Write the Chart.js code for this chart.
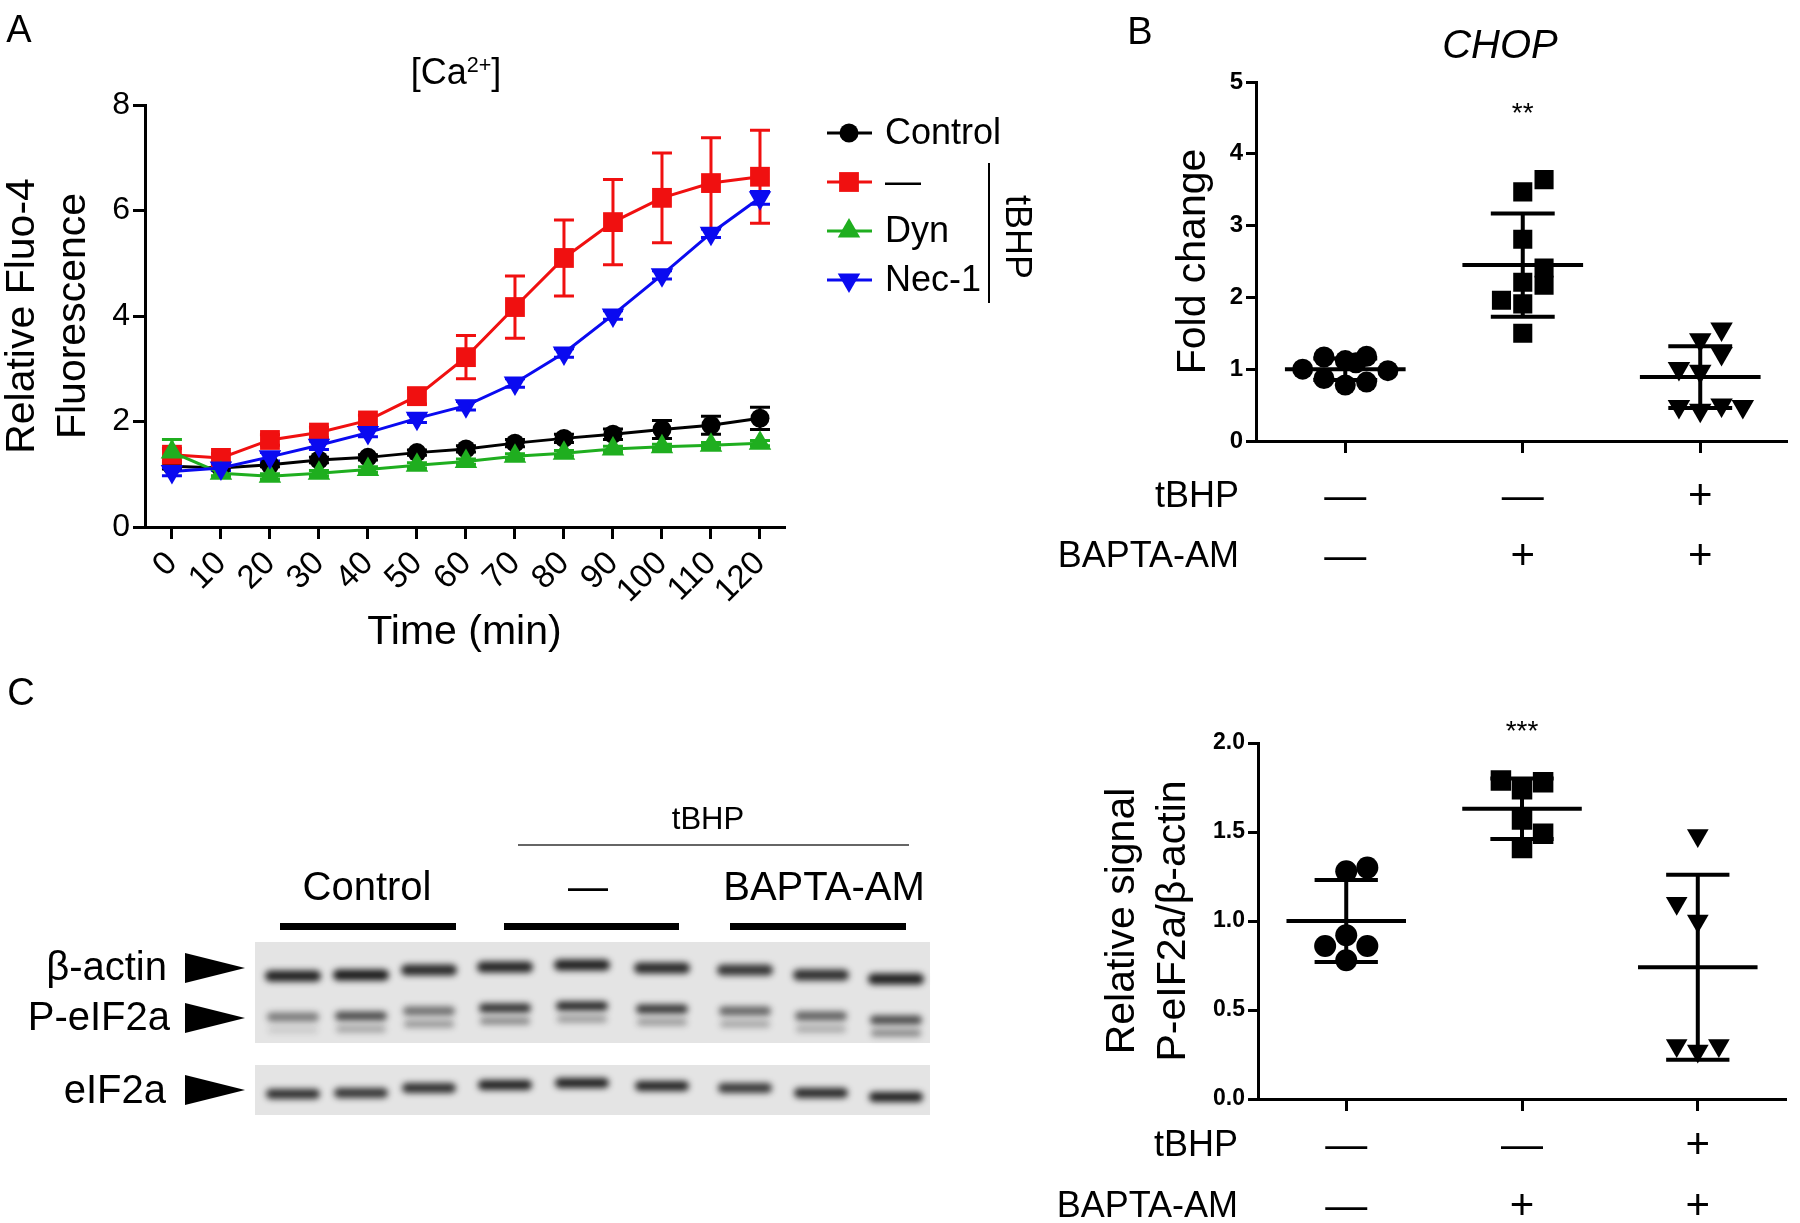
<!DOCTYPE html>
<html>
<head>
<meta charset="utf-8">
<script src="https://cdn.jsdelivr.net/npm/chart.js@4.4.1/dist/chart.umd.min.js"></script>
<style>
  body { margin: 0; background: #fff; }
  #page { position: relative; width: 1800px; height: 1223px; overflow: hidden; background: #fff;
          font-family: "Liberation Sans", Arial, Helvetica, sans-serif; color: #000; }
  canvas { position: absolute; }
  .lbl { position: absolute; white-space: nowrap; line-height: 1; }
  sup { font-size: 0.6em; vertical-align: 0.55em; line-height: 0; }
</style>
</head>
<body>
<div id="page">
  <canvas id="chartA" width="1110" height="680" style="left:0;top:0"></canvas>
  <canvas id="chartB" width="800" height="600" style="left:1000px;top:0"></canvas>
  <canvas id="chartC" width="800" height="543" style="left:1000px;top:680px"></canvas>
  <canvas id="blot" width="950" height="563" style="left:0;top:660px"></canvas>
</div>
<script>
// ---- panel A : Fluo-4 time course ----
const timeLabels = [0, 10, 20, 30, 40, 50, 60, 70, 80, 90, 100, 110, 120];
const controlMean = [1.15, 1.12, 1.18, 1.27, 1.32, 1.41, 1.48, 1.59, 1.68, 1.76, 1.85, 1.93, 2.06];
const controlErr  = [0.05, 0.04, 0.04, 0.05, 0.05, 0.05, 0.06, 0.07, 0.08, 0.10, 0.17, 0.17, 0.21];
const tbhpMean    = [1.37, 1.31, 1.65, 1.79, 2.02, 2.48, 3.22, 4.17, 5.10, 5.78, 6.24, 6.52, 6.64];
const tbhpErr     = [0.12, 0.08, 0.10, 0.10, 0.10, 0.15, 0.41, 0.59, 0.72, 0.81, 0.85, 0.86, 0.88];
const dynMean     = [1.42, 1.02, 0.96, 1.02, 1.09, 1.17, 1.24, 1.34, 1.40, 1.48, 1.52, 1.55, 1.59];
const dynErr      = [0.24, 0.05, 0.05, 0.05, 0.05, 0.05, 0.05, 0.05, 0.05, 0.05, 0.05, 0.05, 0.05];
const necMean     = [1.05, 1.12, 1.33, 1.55, 1.79, 2.06, 2.30, 2.73, 3.30, 4.02, 4.78, 5.57, 6.24];
const necErr      = [0.08, 0.05, 0.08, 0.08, 0.08, 0.08, 0.08, 0.08, 0.08, 0.08, 0.08, 0.08, 0.12];
const yTicksA = [0, 2, 4, 6, 8];

// ---- panel B : CHOP fold change ----
const groupLabels = ['Control', 'BAPTA-AM', 'tBHP + BAPTA-AM'];
const tbhpRow  = ['—', '—', '+'];
const baptaRow = ['—', '+', '+'];
const chopControl  = [1.00, 1.17, 0.87, 1.12, 0.78, 1.18, 0.82, 0.98, 1.09];
const chopControlX = [-0.24, -0.12, -0.12, 0, 0, 0.12, 0.12, 0.24, 0.06];
const chopBapta    = [3.47, 3.64, 2.81, 2.41, 2.17, 2.21, 1.96, 1.91, 1.50];
const chopBaptaX   = [0, 0.12, 0, 0.12, 0.12, 0, -0.12, 0, 0];
const chopBoth     = [1.56, 1.41, 1.22, 1.01, 0.97, 0.48, 0.43, 0.50, 0.48];
const chopBothX    = [0.12, 0, 0.12, -0.12, 0, -0.12, 0, 0.12, 0.24];
const chopMean = [1.00, 2.45, 0.89];
const chopSd   = [0.15, 0.72, 0.43];
const chopSig  = ['', '**', ''];

// ---- panel C : P-eIF2a / beta-actin ----
const eifControl  = [1.28, 1.30, 0.92, 0.86, 0.86, 0.78];
const eifControlX = [0, 0.12, 0, -0.12, 0.12, 0];
const eifBapta    = [1.79, 1.78, 1.74, 1.57, 1.49, 1.41];
const eifBaptaX   = [-0.12, 0.12, 0, 0, 0.12, 0];
const eifBoth     = [1.48, 1.10, 1.00, 0.30, 0.27, 0.30];
const eifBothX    = [0, -0.12, 0, -0.12, 0, 0.12];
const eifMean = [1.00, 1.63, 0.74];
const eifSd   = [0.23, 0.17, 0.52];
const eifSig  = ['', '***', ''];

// blot lane intensities (9 lanes: 3 control, 3 tBHP, 3 tBHP + BAPTA-AM)
const actinLevel = [0.92, 0.95, 0.88, 0.90, 0.92, 0.88, 0.82, 0.85, 0.92];
const peifLevel  = [0.50, 0.72, 0.55, 0.85, 0.90, 0.82, 0.60, 0.62, 0.72];
const peifLower  = [0.12, 0.30, 0.38, 0.45, 0.35, 0.35, 0.30, 0.28, 0.45];
const eifLevel   = [0.85, 0.82, 0.85, 0.92, 0.92, 0.90, 0.80, 0.88, 0.92];

const FONT = '"Liberation Sans", Arial, Helvetica, sans-serif';
Chart.defaults.font.family = FONT;
Chart.defaults.color = '#000';

const page = document.getElementById('page');
function addText(html, x, y, size, align, extra) {
  const d = document.createElement('div');
  d.className = 'lbl';
  d.innerHTML = html;
  d.style.left = x + 'px';
  d.style.top = y + 'px';
  d.style.fontSize = size + 'px';
  const tx = align === 'right' ? '-100%' : (align === 'left' ? '0' : '-50%');
  d.style.transform = 'translate(' + tx + ', -50%)';
  if (extra) Object.assign(d.style, extra);
  page.appendChild(d);
}

function marker(ctx, style, radius, rotation, x, y) {
  if (Chart.helpers && Chart.helpers.drawPoint) {
    Chart.helpers.drawPoint(ctx, { pointStyle: style, radius: radius, rotation: rotation || 0, borderWidth: 0 }, x, y);
    return;
  }
  ctx.beginPath();
  ctx.arc(x, y, radius, 0, Math.PI * 2);
  ctx.fill();
}

// error bars drawn under the lines
const errorBars = {
  id: 'errorBars',
  beforeDatasetsDraw(chart) {
    const ctx = chart.ctx, xs = chart.scales.x, ys = chart.scales.y;
    chart.data.datasets.forEach(ds => {
      if (!ds.err) return;
      ctx.save();
      ctx.strokeStyle = ds.borderColor;
      ctx.lineWidth = 3;
      ds.data.forEach((p, i) => {
        const e = ds.err[i];
        const x = xs.getPixelForValue(p.x);
        const y1 = ys.getPixelForValue(p.y + e), y2 = ys.getPixelForValue(p.y - e);
        ctx.beginPath();
        ctx.moveTo(x, y1); ctx.lineTo(x, y2);
        ctx.moveTo(x - 10, y1); ctx.lineTo(x + 10, y1);
        ctx.moveTo(x - 10, y2); ctx.lineTo(x + 10, y2);
        ctx.stroke();
      });
      ctx.restore();
    });
  }
};

// legend of panel A with the tBHP bracket
const legendA = {
  id: 'legendA',
  afterDraw(chart) {
    const ctx = chart.ctx, area = chart.chartArea;
    const x0 = area.right + 43;
    ctx.save();
    chart.data.datasets.forEach((ds, i) => {
      const y = area.top + 28 + i * 49;
      ctx.strokeStyle = ds.borderColor;
      ctx.lineWidth = 3;
      ctx.beginPath(); ctx.moveTo(x0, y); ctx.lineTo(x0 + 45, y); ctx.stroke();
      ctx.fillStyle = ds.borderColor;
      marker(ctx, ds.pointStyle, ds.pointRadius, ds.pointRotation, x0 + 22, y);
      ctx.fillStyle = '#000';
      ctx.font = '36px ' + FONT;
      ctx.textAlign = 'left';
      ctx.textBaseline = 'middle';
      ctx.fillText(ds.label, x0 + 58, y + 1);
    });
    ctx.strokeStyle = '#000';
    ctx.lineWidth = 2;
    ctx.beginPath();
    ctx.moveTo(area.right + 205, area.top + 58);
    ctx.lineTo(area.right + 205, area.top + 198);
    ctx.stroke();
    ctx.translate(area.right + 232, area.top + 132);
    ctx.rotate(Math.PI / 2);
    ctx.textAlign = 'center';
    ctx.textBaseline = 'middle';
    ctx.font = '36px ' + FONT;
    ctx.fillText('tBHP', 0, 0);
    ctx.restore();
  }
};

function lineSet(label, means, errs, color, style, radius, rot, order) {
  return {
    label: label,
    data: timeLabels.map((t, i) => ({ x: t, y: means[i] })),
    err: errs,
    borderColor: color,
    backgroundColor: color,
    pointBackgroundColor: color,
    pointBorderWidth: 0,
    pointStyle: style,
    pointRadius: radius,
    pointRotation: rot,
    borderWidth: 3,
    tension: 0,
    order: order
  };
}

new Chart(document.getElementById('chartA'), {
  type: 'line',
  data: {
    datasets: [
      lineSet('Control', controlMean, controlErr, '#000000', 'circle', 9.5, 0, 4),
      lineSet('—', tbhpMean, tbhpErr, '#f01010', 'rect', 14, 0, 3),
      lineSet('Dyn', dynMean, dynErr, '#1fae1f', 'triangle', 13, 0, 2),
      lineSet('Nec-1', necMean, necErr, '#0a0af0', 'triangle', 13, 180, 1)
    ]
  },
  options: {
    responsive: false,
    animation: false,
    devicePixelRatio: 1,
    layout: { padding: { top: 105, right: 326, bottom: 23, left: 0 } },
    plugins: { legend: { display: false }, tooltip: { enabled: false } },
    scales: {
      x: {
        type: 'linear', min: -5.5, max: 124.9,
        afterBuildTicks: s => { s.ticks = timeLabels.map(v => ({ value: v })); },
        afterFit: s => { s.height = 130; },
        border: { color: '#000', width: 3 },
        grid: { drawOnChartArea: false, drawTicks: true, tickLength: 12, color: '#000', lineWidth: 3 },
        ticks: { autoSkip: false, minRotation: 45, maxRotation: 45, padding: 5, font: { size: 33 } },
        title: { display: true, text: 'Time (min)', font: { size: 41 }, padding: { top: 0, bottom: 0 } }
      },
      y: {
        min: 0, max: 8,
        afterBuildTicks: s => { s.ticks = yTicksA.map(v => ({ value: v })); },
        afterFit: s => { s.width = 145; },
        border: { color: '#000', width: 3 },
        grid: { drawOnChartArea: false, drawTicks: true, tickLength: 12, color: '#000', lineWidth: 3 },
        ticks: { padding: 3, font: { size: 32 } },
        title: { display: true, text: ['Relative Fluo-4', 'Fluorescence'], font: { size: 41, lineHeight: 1.25 }, padding: { top: -3, bottom: 0 } }
      }
    }
  },
  plugins: [errorBars, legendA]
});

// mean +/- SD bars, treatment rows and significance stars for the dot plots
const groupStats = {
  id: 'groupStats',
  afterDatasetsDraw(chart, args, opts) {
    const ctx = chart.ctx, xs = chart.scales.x, ys = chart.scales.y, area = chart.chartArea;
    ctx.save();
    ctx.strokeStyle = '#000';
    ctx.lineWidth = 4;
    opts.means.forEach((m, i) => {
      const sd = opts.sds[i];
      ctx.beginPath();
      ctx.moveTo(xs.getPixelForValue(i - 0.34), ys.getPixelForValue(m));
      ctx.lineTo(xs.getPixelForValue(i + 0.34), ys.getPixelForValue(m));
      ctx.moveTo(xs.getPixelForValue(i), ys.getPixelForValue(m + sd));
      ctx.lineTo(xs.getPixelForValue(i), ys.getPixelForValue(m - sd));
      [m + sd, m - sd].forEach(v => {
        ctx.moveTo(xs.getPixelForValue(i - 0.18), ys.getPixelForValue(v));
        ctx.lineTo(xs.getPixelForValue(i + 0.18), ys.getPixelForValue(v));
      });
      ctx.stroke();
    });
    ctx.fillStyle = '#000';
    ctx.textBaseline = 'middle';
    ctx.textAlign = 'center';
    ctx.font = '28px ' + FONT;
    opts.sig.forEach((s, i) => {
      if (s) ctx.fillText(s, xs.getPixelForValue(i), ys.getPixelForValue(opts.sigValue));
    });
    const rows = [['tBHP', tbhpRow], ['BAPTA-AM', baptaRow]];
    rows.forEach((r, k) => {
      const y = area.bottom + opts.rowOffsets[k];
      ctx.textAlign = 'right';
      ctx.font = '36px ' + FONT;
      ctx.fillText(r[0], area.left - opts.labelGap, y);
      ctx.textAlign = 'center';
      ctx.font = '42px ' + FONT;
      r[1].forEach((sym, i) => ctx.fillText(sym, xs.getPixelForValue(i), y));
    });
    ctx.restore();
  }
};

function dots(values, jitter, group, style, radius, rot) {
  return {
    data: values.map((v, i) => ({ x: group + jitter[i], y: v })),
    pointStyle: style,
    pointRadius: radius,
    pointRotation: rot,
    pointBackgroundColor: '#000',
    pointBorderWidth: 0
  };
}

function dotOptions(cfg) {
  return {
    responsive: false,
    animation: false,
    devicePixelRatio: 1,
    layout: { padding: { top: cfg.top, right: cfg.right, bottom: 0, left: 0 } },
    plugins: { legend: { display: false }, tooltip: { enabled: false }, groupStats: cfg.stats },
    scales: {
      x: {
        type: 'linear', min: cfg.xMin, max: cfg.xMax,
        afterBuildTicks: s => { s.ticks = groupLabels.map((g, i) => ({ value: i })); },
        afterFit: s => { s.height = cfg.xHeight; },
        border: { color: '#000', width: 3 },
        grid: { drawOnChartArea: false, drawTicks: true, tickLength: 12, color: '#000', lineWidth: 3 },
        ticks: { display: false }
      },
      y: {
        min: 0, max: cfg.yMax,
        afterBuildTicks: s => { s.ticks = cfg.yTicks.map(v => ({ value: v })); },
        afterFit: s => { s.width = cfg.yWidth; },
        border: { color: '#000', width: 3 },
        grid: { drawOnChartArea: false, drawTicks: true, tickLength: 10, color: '#000', lineWidth: 3 },
        ticks: { padding: 3, font: { size: cfg.tickSize, weight: 'bold' }, callback: cfg.fmt },
        title: { display: true, text: cfg.title, font: { size: 41, lineHeight: 1.25 }, padding: { top: cfg.titlePad, bottom: 0 } }
      }
    }
  };
}

new Chart(document.getElementById('chartB'), {
  type: 'scatter',
  data: {
    datasets: [
      dots(chopControl, chopControlX, 0, 'circle', 10.5, 0),
      dots(chopBapta, chopBaptaX, 1, 'rect', 13.5, 0),
      dots(chopBoth, chopBothX, 2, 'triangle', 13, 180)
    ]
  },
  options: dotOptions({
    top: 82, right: 9, xMin: -0.503, xMax: 2.486, xHeight: 159, yWidth: 256,
    yMax: 5, yTicks: [0, 1, 2, 3, 4, 5], tickSize: 24, fmt: v => String(v),
    title: 'Fold change', titlePad: 168,
    stats: { means: chopMean, sds: chopSd, sig: chopSig, sigValue: 4.55, rowOffsets: [56, 116], labelGap: 17 }
  }),
  plugins: [groupStats]
});

new Chart(document.getElementById('chartC'), {
  type: 'scatter',
  data: {
    datasets: [
      dots(eifControl, eifControlX, 0, 'circle', 11, 0),
      dots(eifBapta, eifBaptaX, 1, 'rect', 14.5, 0),
      dots(eifBoth, eifBothX, 2, 'triangle', 12.5, 180)
    ]
  },
  options: dotOptions({
    top: 63, right: 7, xMin: -0.502, xMax: 2.499, xHeight: 124, yWidth: 258,
    yMax: 2, yTicks: [0, 0.5, 1, 1.5, 2], tickSize: 23, fmt: v => v.toFixed(1),
    title: ['Relative signal', 'P-eIF2a/β-actin'], titlePad: 97,
    stats: { means: eifMean, sds: eifSd, sig: eifSig, sigValue: 2.06, rowOffsets: [47, 108], labelGap: 20 }
  }),
  plugins: [groupStats]
});

// ---- western blot picture of panel C ----
(function drawBlot() {
  const ctx = document.getElementById('blot').getContext('2d');
  const laneX = [293, 361, 429, 505, 582, 662, 745, 821, 896];
  const drift = [9, 8, 3, 0, -2, 1, 3, 8, 12];
  ctx.fillStyle = '#e4e4e4';
  ctx.fillRect(255, 282, 675, 101);
  ctx.fillRect(255, 405, 675, 50);

  function band(x, y, w, h, a, blur) {
    ctx.save();
    ctx.filter = 'blur(' + blur + 'px)';
    ctx.fillStyle = 'rgba(15,15,15,' + a + ')';
    ctx.beginPath();
    if (ctx.roundRect) ctx.roundRect(x - w / 2, y - h / 2, w, h, h / 2);
    else ctx.rect(x - w / 2, y - h / 2, w, h);
    ctx.fill();
    ctx.restore();
  }
  laneX.forEach((x, i) => {
    band(x, 307 + drift[i], 56, 11, actinLevel[i], 3);
    band(x, 348 + drift[i], 52, 9, peifLevel[i], 3);
    band(x, 361 + drift[i], 50, 7, peifLower[i], 3);
    band(x, 425 + drift[i], 54, 10, eifLevel[i], 3);
  });

  // group bars and tBHP line
  ctx.fillStyle = '#000';
  [[280, 456], [504, 679], [730, 906]].forEach(b => ctx.fillRect(b[0], 263, b[1] - b[0], 7));
  ctx.strokeStyle = '#666';
  ctx.lineWidth = 2;
  ctx.beginPath(); ctx.moveTo(518, 185); ctx.lineTo(909, 185); ctx.stroke();

  // arrow heads
  [308, 358, 430].forEach(y => {
    ctx.beginPath();
    ctx.moveTo(185, y - 15); ctx.lineTo(245, y); ctx.lineTo(185, y + 15);
    ctx.closePath();
    ctx.fill();
  });
})();

// ---- free text ----
addText('A', 19, 29, 38);
addText('B', 1140, 31, 38);
addText('C', 21, 692, 38);
addText('[Ca<sup>2+</sup>]', 456, 72, 36);
addText('CHOP', 1500, 44, 40, 'center', { fontStyle: 'italic' });
addText('tBHP', 708, 818, 31);
addText('Control', 367, 886, 40);
addText('—', 588, 886, 40);
addText('BAPTA-AM', 824, 886, 40);
addText('β-actin', 167, 966, 40, 'right');
addText('P-eIF2a', 170, 1016, 40, 'right');
addText('eIF2a', 166, 1089, 40, 'right');
</script>
</body>
</html>
